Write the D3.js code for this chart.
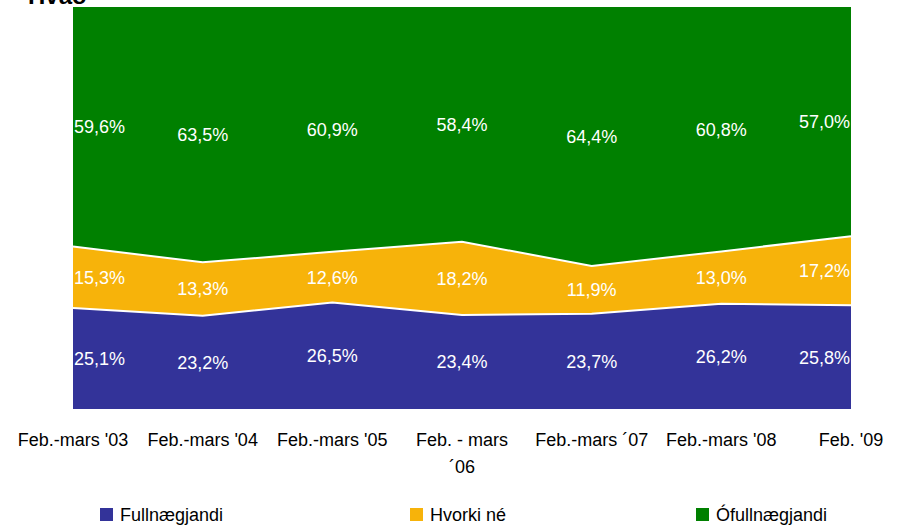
<!DOCTYPE html>
<html lang="is">
  <head>
    <meta charset="utf-8">
    <title>Hvað</title>
    <style>
      body { margin: 0; background: #fff; }
      text { font-family: "Liberation Sans", Arial, sans-serif; }
    </style>
  </head>
  <body>
  <script src="https://d3js.org/d3.v7.min.js"></script>

  <svg width="900" height="527"></svg>

  <script type="text/javascript">

    var categories = ["Feb.-mars '03", "Feb.-mars '04", "Feb.-mars '05", "Feb. - mars|´06", "Feb.-mars ´07", "Feb.-mars '08", "Feb. '09"];
    var seriesNames = ["Fullnægjandi", "Hvorki né", "Ófullnægjandi"];
    var fullnaegjandi = [25.1, 23.2, 26.5, 23.4, 23.7, 26.2, 25.8];
    var hvorki = [15.3, 13.3, 12.6, 18.2, 11.9, 13.0, 17.2];
    var ofullnaegjandi = [59.6, 63.5, 60.9, 58.4, 64.4, 60.8, 57.0];
    var colors = ["#333399", "#f7b30a", "#008000"];

    var svg = d3.select("svg");

    // rows for d3.stack
    var rows = categories.map(function (c, i) {
      return { cat: c, s0: fullnaegjandi[i], s1: hvorki[i], s2: ofullnaegjandi[i] };
    });

    var x = d3.scalePoint().domain(categories).range([73, 851]);
    var y = d3.scaleLinear().domain([0, 100]).range([409, 7]);

    var stack = d3.stack().keys(["s0", "s1", "s2"]);
    var layers = stack(rows);

    var area = d3.area()
      .x(function (d) { return x(d.data.cat); })
      .y0(function (d) { return y(d[0]); })
      .y1(function (d) { return y(d[1]); });

    var line = d3.line()
      .x(function (d) { return x(d.data.cat); })
      .y(function (d) { return y(d[1]); });

    svg.selectAll("path.band")
      .data(layers)
      .enter()
      .append("path")
      .attr("class", "band")
      .attr("fill", function (d, i) { return colors[i]; })
      .attr("d", area);

    // white separators between bands
    svg.selectAll("path.sep")
      .data(layers.slice(0, 2))
      .enter()
      .append("path")
      .attr("class", "sep")
      .attr("fill", "none")
      .attr("stroke", "#fff")
      .attr("stroke-width", 2)
      .attr("d", line);

    // value labels
    var last = categories.length - 1;
    layers.forEach(function (layer) {
      svg.selectAll(null)
        .data(layer)
        .enter()
        .append("text")
        .attr("x", function (d, i) {
          var px = x(d.data.cat);
          return i === 0 ? px + 1 : (i === last ? px - 1 : px);
        })
        .attr("y", function (d) { return y((d[0] + d[1]) / 2); })
        .attr("dy", "0.36em")
        .attr("text-anchor", function (d, i) {
          return i === 0 ? "start" : (i === last ? "end" : "middle");
        })
        .attr("fill", "#fff")
        .style("font-size", "18px")
        .text(function (d) { return (d[1] - d[0]).toFixed(1).replace(".", ",") + "%"; });
    });

    // category labels
    var xl = svg.selectAll("text.xlab")
      .data(categories)
      .enter()
      .append("text")
      .attr("class", "xlab")
      .attr("text-anchor", "middle")
      .attr("fill", "#000")
      .style("font-size", "18px");

    xl.each(function (c) {
      var parts = c.split("|");
      var t = d3.select(this);
      parts.forEach(function (p, k) {
        t.append("tspan")
          .attr("x", x(c))
          .attr("y", 446 + k * 27)
          .text(p);
      });
    });

    // legend
    var legendX = [100, 410, 696];
    var lg = svg.selectAll("g.legend")
      .data(seriesNames)
      .enter()
      .append("g")
      .attr("class", "legend")
      .attr("transform", function (d, i) { return "translate(" + legendX[i] + ",508)"; });

    lg.append("rect")
      .attr("width", 13)
      .attr("height", 13)
      .attr("fill", function (d, i) { return colors[i]; });

    lg.append("text")
      .attr("x", 20)
      .attr("y", 13)
      .attr("fill", "#000")
      .style("font-size", "18px")
      .text(function (d) { return d; });

    // title (cut off at top in the original)
    svg.append("text")
      .attr("x", 28)
      .attr("y", 4)
      .attr("fill", "#000")
      .style("font-size", "24px")
      .style("font-weight", "bold")
      .text("Hvað");

  </script>
  </body>
</html>
